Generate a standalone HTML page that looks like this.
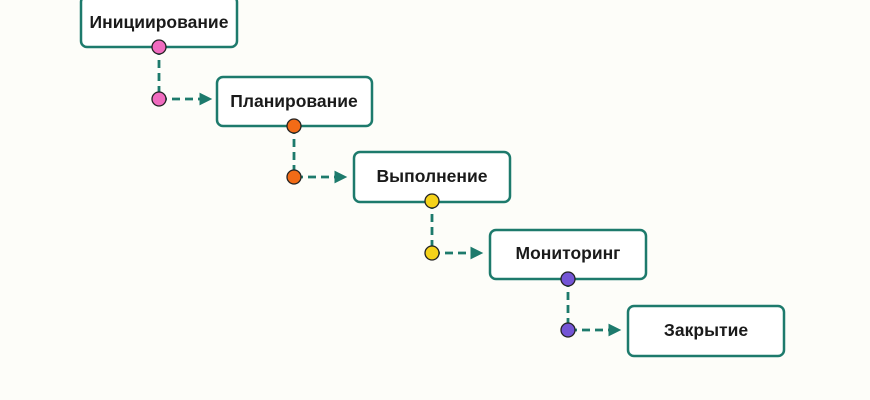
<!DOCTYPE html>
<html><head><meta charset="utf-8"><style>
html,body{margin:0;padding:0;background:#fdfdf9;}
svg{display:block}
text{font-family:"Liberation Sans",sans-serif;font-weight:bold;font-size:17.5px;fill:#1a1a1a;text-anchor:middle;dominant-baseline:central}
</style></head><body>
<svg width="870" height="400" viewBox="0 0 870 400" xmlns="http://www.w3.org/2000/svg">
<defs><marker id="a" viewBox="0 0 10 10" refX="9" refY="5" markerWidth="13" markerHeight="13" markerUnits="userSpaceOnUse" orient="auto"><path d="M0,0 L10,5 L0,10 z" fill="#1d7a6c"/></marker></defs>
<g fill="#fff" stroke="#1d7a6c" stroke-width="2.5">
<rect x="81" y="-4" width="156" height="51" rx="6"/>
<rect x="217" y="77" width="155" height="49" rx="6"/>
<rect x="354" y="152" width="156" height="50" rx="6"/>
<rect x="490" y="230" width="156" height="49" rx="6"/>
<rect x="628" y="306" width="156" height="50" rx="6"/>
</g>
<g stroke="#1d7a6c" stroke-width="2.8" stroke-dasharray="8,5" fill="none">
<path d="M159,47 V99 H211" marker-end="url(#a)"/>
<path d="M294,126 V177 H346" marker-end="url(#a)"/>
<path d="M432,201 V253 H482" marker-end="url(#a)"/>
<path d="M568,279 V330 H620" marker-end="url(#a)"/>
</g>
<g stroke="#222" stroke-width="1.3">
<circle cx="159" cy="47" r="7" fill="#f06bbf"/><circle cx="159" cy="99" r="7" fill="#f06bbf"/>
<circle cx="294" cy="126" r="7" fill="#f26b16"/><circle cx="294" cy="177" r="7" fill="#f26b16"/>
<circle cx="432" cy="201" r="7" fill="#f5d21a"/><circle cx="432" cy="253" r="7" fill="#f5d21a"/>
<circle cx="568" cy="279" r="7" fill="#7455d6"/><circle cx="568" cy="330" r="7" fill="#7455d6"/>
</g>
<text x="159" y="22">Инициирование</text>
<text x="294" y="101">Планирование</text>
<text x="432" y="176">Выполнение</text>
<text x="568" y="253">Мониторинг</text>
<text x="706" y="330">Закрытие</text>
</svg>
</body></html>
